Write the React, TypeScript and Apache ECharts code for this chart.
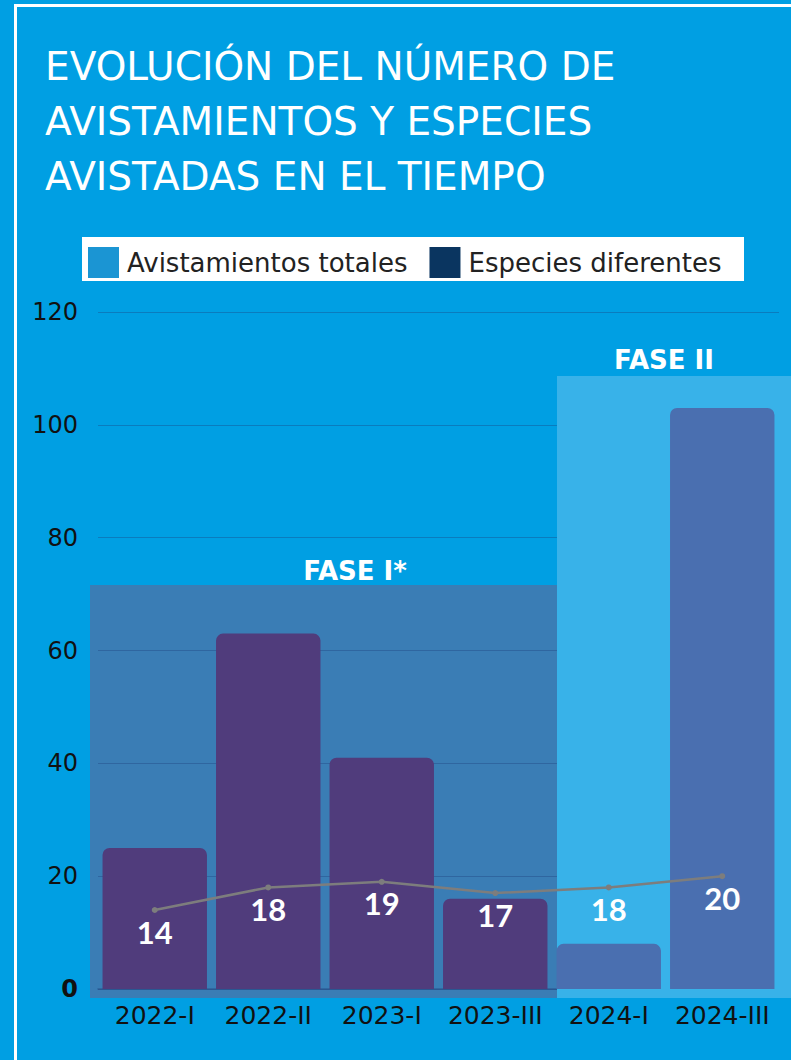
import React, { useEffect, useRef } from 'react';
import * as echarts from 'echarts';

const categories = ['2022-I', '2022-II', '2023-I', '2023-III', '2024-I', '2024-III'];
const totalSightings = [25, 63, 41, 16, 8, 103];
const speciesCount = [14, 18, 19, 17, 18, 20];
const phaseOf = ['I', 'I', 'I', 'I', 'II', 'II'];
const yMin = 0;
const yMax = 120;
const yStep = 20;

const titleLines = ['EVOLUCIÓN DEL NÚMERO DE', 'AVISTAMIENTOS Y ESPECIES', 'AVISTADAS EN EL TIEMPO'];
const seriesNames = ['Avistamientos totales', 'Especies diferentes'];
const phaseLabels = ['FASE I*', 'FASE II'];

const FONT = 'DejaVu Sans';

export default function App() {
  const ref = useRef<HTMLDivElement>(null);
  useEffect(() => {
    document.body.style.margin = '0';
    const chart = echarts.init(ref.current!, null, { renderer: 'svg' });
    const phaseColor: Record<string, string> = { I: '#503c7c', II: '#4a6fb0' };
    chart.setOption({
      animation: false,
      backgroundColor: '#009fe3',
      title: {
        text: titleLines.join('\n'),
        left: 45,
        top: 39,
        padding: 0,
        textStyle: { color: '#ffffff', fontFamily: FONT, fontSize: 39, fontWeight: 'normal', lineHeight: 55 },
      },
      legend: {
        left: 88,
        top: 247,
        padding: 0,
        itemWidth: 31,
        itemHeight: 31,
        itemGap: 22,
        icon: 'rect',
        selectedMode: false,
        textStyle: { color: '#222222', fontSize: 26, fontFamily: FONT, padding: [0, 0, 0, 3] },
        data: [
          { name: seriesNames[0], itemStyle: { color: '#1b95d3' } },
          { name: seriesNames[1], itemStyle: { color: '#0a3560' } },
        ],
      },
      grid: { left: 98, right: 12, top: 312, bottom: 71 },
      xAxis: {
        type: 'category',
        data: categories,
        z: 2,
        axisTick: { show: false },
        axisLine: { lineStyle: { color: 'rgba(30,60,120,0.45)', width: 1.5 } },
        axisLabel: { interval: 0, color: '#111111', fontSize: 25, fontFamily: FONT, margin: 14 },
      },
      yAxis: {
        type: 'value',
        min: yMin,
        max: yMax,
        interval: yStep,
        z: 2,
        axisLine: { show: false },
        axisTick: { show: false },
        splitLine: { lineStyle: { color: 'rgba(30,60,120,0.35)', width: 1 } },
        axisLabel: {
          margin: 20,
          color: '#111111',
          fontSize: 24,
          fontFamily: FONT,
          formatter: (v: number) => (v === 0 ? '{z|0}' : String(v)),
          rich: { z: { fontSize: 24, fontWeight: 'bold', fontFamily: FONT, color: '#111111' } },
        },
      },
      graphic: [
        { type: 'rect', z: 0, shape: { x: 14, y: 4, width: 3, height: 1056 }, style: { fill: '#ffffff' } },
        { type: 'rect', z: 0, shape: { x: 14, y: 4, width: 777, height: 3 }, style: { fill: '#ffffff' } },
        { type: 'rect', z: 0, shape: { x: 82, y: 237, width: 662, height: 44 }, style: { fill: '#ffffff' } },
        { type: 'rect', z: 1, shape: { x: 90, y: 585, width: 467, height: 413 }, style: { fill: '#3a7db5' } },
        { type: 'rect', z: 3, shape: { x: 557, y: 376, width: 234, height: 622 }, style: { fill: '#38b2e9' } },
        {
          type: 'text', z: 10, x: 355, y: 571,
          style: { text: phaseLabels[0], fill: '#ffffff', font: `bold 26px "${FONT}"`, textAlign: 'center', textVerticalAlign: 'middle' },
        },
        {
          type: 'text', z: 10, x: 664, y: 360,
          style: { text: phaseLabels[1], fill: '#ffffff', font: `bold 26px "${FONT}"`, textAlign: 'center', textVerticalAlign: 'middle' },
        },
      ],
      series: [
        {
          name: seriesNames[0],
          type: 'bar',
          z: 5,
          barCategoryGap: '8%',
          itemStyle: { borderRadius: [7, 7, 0, 0] },
          data: totalSightings.map((v, i) => ({ value: v, itemStyle: { color: phaseColor[phaseOf[i]] } })),
        },
        {
          name: seriesNames[1],
          type: 'line',
          z: 6,
          symbol: 'circle',
          symbolSize: 6,
          lineStyle: { color: '#7d7d7d', width: 2.5 },
          itemStyle: { color: '#7d7d7d' },
          label: { show: true, position: 'bottom', distance: 3, color: '#ffffff', fontSize: 31, fontWeight: 'bold', fontFamily: 'Lato' },
          data: speciesCount,
        },
      ],
    });
    return () => chart.dispose();
  }, []);
  return <div ref={ref} style={{ width: 791, height: 1060 }} />;
}
